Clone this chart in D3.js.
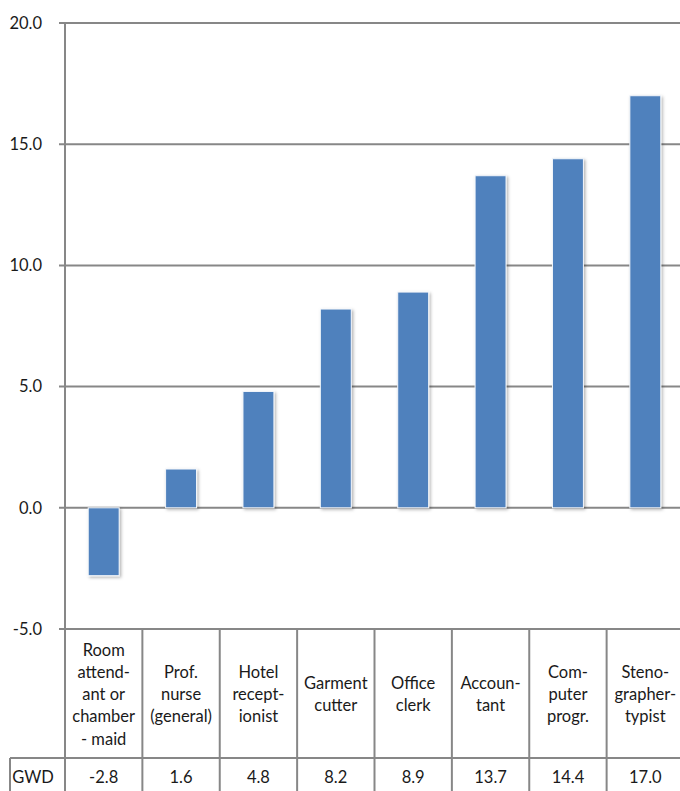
<!DOCTYPE html>
<html><head><meta charset="utf-8">
<script src="https://cdn.jsdelivr.net/npm/d3@7"></script>
<style>body{margin:0;background:#fff;overflow:hidden}svg{display:block}text{font-family:Lato,"Liberation Sans",sans-serif;fill:#1a1a1a}</style>
</head><body>
<script>
const categories = [
  ["Room","attend-","ant or","chamber","- maid"],
  ["Prof.","nurse","(general)"],
  ["Hotel","recept-","ionist"],
  ["Garment","cutter"],
  ["Office","clerk"],
  ["Accoun-","tant"],
  ["Com-","puter","progr."],
  ["Steno-","grapher-","typist"]
];
const seriesName = "GWD";
const values = [-2.8, 1.6, 4.8, 8.2, 8.9, 13.7, 14.4, 17.0];
const valueLabels = ["-2.8","1.6","4.8","8.2","8.9","13.7","14.4","17.0"];
const yTicks = [-5, 0, 5, 10, 15, 20];

const W = 680, H = 791;
const mLeft = 65, mRight = 684, mTop = 23, mBottom = 629;
const gray = "#878787";
const fs = 16.5;

const svg = d3.select("body").append("svg").attr("width", W).attr("height", H);
const defs = svg.append("defs");
const f = defs.append("filter").attr("id","sh").attr("x","-30%").attr("y","-10%").attr("width","160%").attr("height","130%");
f.append("feDropShadow").attr("dx",1.5).attr("dy",1.5).attr("stdDeviation",1.6).attr("flood-color","#000").attr("flood-opacity",0.3);

const x = d3.scaleBand().domain(d3.range(values.length)).range([mLeft, mRight]).paddingInner(0.6).paddingOuter(0.3);
const xc = d3.scaleBand().domain(d3.range(values.length)).range([mLeft, mRight]);
const y = d3.scaleLinear().domain([-5, 20]).range([mBottom, mTop]);

// gridlines
svg.append("g").selectAll("line").data(yTicks.filter(t => t > -5)).join("line")
  .attr("x1", mLeft - 6).attr("x2", W).attr("y1", d => y(d)).attr("y2", d => y(d))
  .attr("stroke", gray).attr("stroke-width", 2);

// y axis labels
svg.append("g").selectAll("text").data(yTicks).join("text")
  .attr("x", 42).attr("y", d => y(d)).attr("dy", "0.35em").attr("text-anchor", "end")
  .attr("font-size", fs).text(d => d3.format(".1f")(d).replace("\u2212", "-"));

// bars
svg.append("g").selectAll("rect").data(values).join("rect")
  .attr("x", (d, i) => x(i)).attr("width", x.bandwidth())
  .attr("y", d => y(Math.max(0, d))).attr("height", d => Math.abs(y(d) - y(0)))
  .attr("fill", "#4F81BD").attr("stroke", "#f4f7fb").attr("stroke-width", 1)
  .attr("filter", "url(#sh)");

// y axis line
svg.append("line").attr("x1", mLeft).attr("x2", mLeft).attr("y1", mTop).attr("y2", H)
  .attr("stroke", gray).attr("stroke-width", 2);

// table
const rowTop = mBottom, rowMid = 758, rowBot = 796;
svg.append("line").attr("x1", mLeft - 6).attr("x2", W).attr("y1", rowTop).attr("y2", rowTop).attr("stroke", gray).attr("stroke-width", 2);
svg.append("line").attr("x1", 10).attr("x2", W).attr("y1", rowMid).attr("y2", rowMid).attr("stroke", gray).attr("stroke-width", 2);
svg.append("line").attr("x1", 10).attr("x2", 10).attr("y1", rowMid).attr("y2", rowBot).attr("stroke", gray).attr("stroke-width", 2);
svg.append("g").selectAll("line").data(d3.range(1, values.length + 1)).join("line")
  .attr("x1", i => xc(i - 1) + xc.bandwidth()).attr("x2", i => xc(i - 1) + xc.bandwidth())
  .attr("y1", rowTop).attr("y2", rowBot).attr("stroke", gray).attr("stroke-width", 2);

const lh = 22.2;
const cg = svg.append("g");
categories.forEach((lines, i) => {
  const cx = xc(i) + xc.bandwidth() / 2;
  const cy = (rowTop + rowMid) / 2 + 1;
  const t = cg.append("text").attr("text-anchor", "middle").attr("font-size", fs);
  lines.forEach((ln, j) => {
    t.append("tspan").attr("x", cx).attr("y", cy + (j - (lines.length - 1) / 2) * lh).attr("dy", "0.35em").text(ln);
  });
});

svg.append("text").attr("x", 33).attr("y", 777).attr("dy", "0.35em").attr("text-anchor", "middle").attr("font-size", fs).text(seriesName);
svg.append("g").selectAll("text").data(valueLabels).join("text")
  .attr("x", (d, i) => xc(i) + xc.bandwidth() / 2).attr("y", 777).attr("dy", "0.35em")
  .attr("text-anchor", "middle").attr("font-size", fs).text(d => d);
</script>
</body></html>
